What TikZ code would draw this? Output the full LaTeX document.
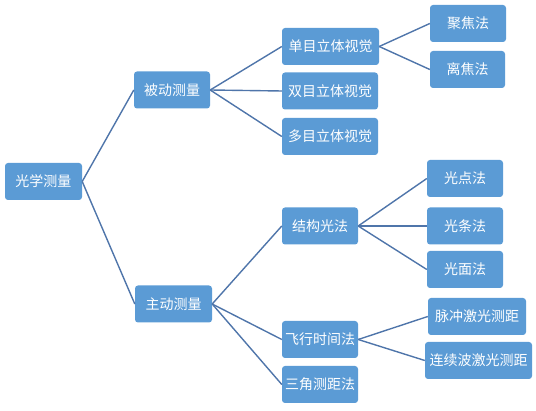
\documentclass[tikz,border=0pt]{standalone}
\usepackage{fontspec}
\newfontfamily\cjk{Noto Sans CJK SC}
\usetikzlibrary{positioning}
\definecolor{omBox}{HTML}{5B9BD5}
\definecolor{omLine}{HTML}{4F75AA}

\begin{document}
\begin{tikzpicture}[x=1pt, y=-1pt,
  box/.style={fill=omBox, rounded corners=3pt, text=white,
    font=\cjk\fontsize{14}{14}\selectfont, minimum height=37pt,
    minimum width=76pt, inner sep=0pt},
  link/.style={draw=omLine, line width=1.4pt}]
  \useasboundingbox (0,0) rectangle (536,411);
  % level 0 and 1
  \node[box, minimum width=77pt] (optic) at (43.5,181.5) {光学测量};
  \node[box] (passive) at (172,90) {被动测量};
  \node[box, minimum width=77pt] (active) at (173.5,304) {主动测量};
  % passive branch
  \node[box, minimum width=97pt] (mono) at (330.5,46.5) {单目立体视觉};
  \node[box, minimum width=96pt] (bino) at (330,91) {双目立体视觉};
  \node[box, minimum width=96pt] (multi) at (330,136.5) {多目立体视觉};
  \node[box] (focus) at (468,23.5) {聚焦法};
  \node[box, minimum width=75pt] (defocus) at (467.5,69.5) {离焦法};
  % active branch
  \node[box] (struct) at (320,226) {结构光法};
  \node[box] (tof) at (320,339.5) {飞行时间法};
  \node[box] (triang) at (320,384.5) {三角测距法};
  \node[box] (spot) at (465,178.5) {光点法};
  \node[box] (stripe) at (465,226) {光条法};
  \node[box] (plane) at (465,269.5) {光面法};
  \node[box, minimum width=98pt] (pulse) at (477,316.5) {脉冲激光测距};
  \node[box, minimum width=107pt] (cw) at (478.5,360.5) {连续波激光测距};
  % connectors
  \foreach \a/\b in {optic/passive, optic/active,
    passive/mono, passive/bino, passive/multi,
    mono/focus, mono/defocus,
    active/struct, active/tof, active/triang,
    struct/spot, struct/stripe, struct/plane,
    tof/pulse, tof/cw}
    \draw[link] (\a.east) -- (\b.west);
\end{tikzpicture}
\end{document}
